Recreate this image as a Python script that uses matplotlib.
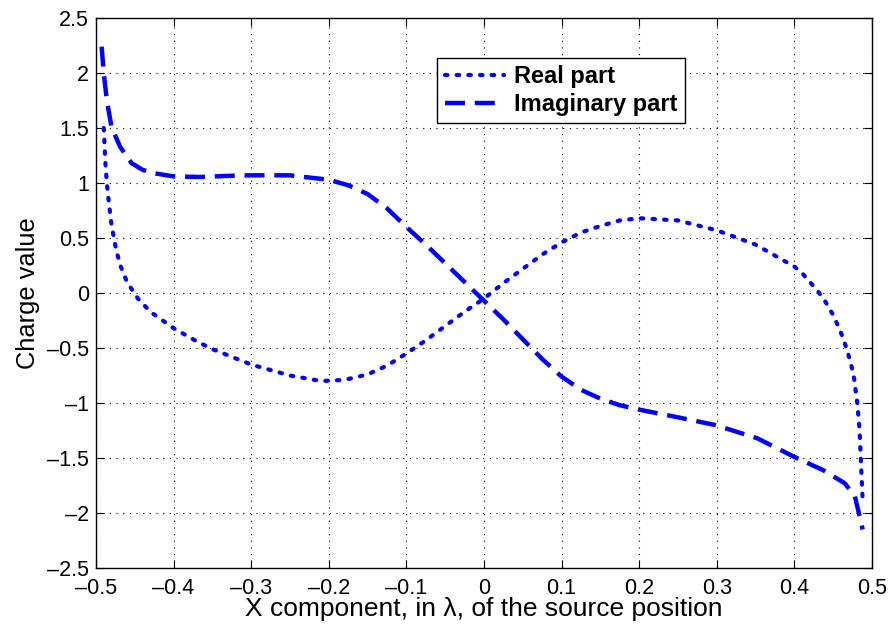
"""Charge value vs source position (real / imaginary parts)."""

import matplotlib.pyplot as plt

plt.rcParams["font.family"] = ["Liberation Sans", "DejaVu Sans"]

# Real part samples
real_x = [-0.490, -0.488, -0.486, -0.484, -0.480, -0.474, -0.468, -0.460,
          -0.446, -0.430, -0.420, -0.400, -0.370, -0.350, -0.300, -0.250,
          -0.210, -0.180, -0.150, -0.125, -0.100, -0.075, -0.050, -0.025,
          0.000, 0.025, 0.050, 0.075, 0.100, 0.125, 0.150, 0.175, 0.200,
          0.250, 0.300, 0.350, 0.400, 0.410, 0.420, 0.430, 0.440, 0.450,
          0.460, 0.468, 0.476, 0.481, 0.484, 0.486, 0.488]
real_y = [1.50, 1.20, 1.00, 0.86, 0.62, 0.39, 0.24, 0.10,
          -0.05, -0.17, -0.22, -0.32, -0.44, -0.51, -0.65, -0.75,
          -0.80, -0.79, -0.74, -0.66, -0.55, -0.43, -0.30, -0.17,
          -0.05, 0.09, 0.22, 0.35, 0.46, 0.55, 0.61, 0.66, 0.68,
          0.66, 0.57, 0.44, 0.24, 0.18, 0.10, 0.02, -0.08, -0.20,
          -0.36, -0.52, -0.73, -1.00, -1.25, -1.58, -1.90]

# Imaginary part samples
imag_x = [-0.4927, -0.490, -0.486, -0.480, -0.469, -0.454, -0.440, -0.426,
          -0.400, -0.366, -0.330, -0.300, -0.250, -0.200, -0.175, -0.150,
          -0.125, -0.100, -0.075, -0.050, -0.025, 0.000, 0.025, 0.050,
          0.075, 0.100, 0.125, 0.150, 0.175, 0.200, 0.250, 0.298,
          0.352, 0.400, 0.437, 0.465, 0.478, 0.488]
imag_y = [2.24, 2.00, 1.75, 1.51, 1.33, 1.18, 1.12, 1.09,
          1.06, 1.055, 1.065, 1.07, 1.07, 1.03, 0.98, 0.90,
          0.77, 0.60, 0.44, 0.27, 0.10, -0.07, -0.24, -0.42,
          -0.60, -0.76, -0.88, -0.96, -1.02, -1.06, -1.13, -1.20,
          -1.32, -1.49, -1.61, -1.73, -1.85, -2.15]

x_ticks = [-0.5, -0.4, -0.3, -0.2, -0.1, 0, 0.1, 0.2, 0.3, 0.4, 0.5]
y_ticks = [-2.5, -2, -1.5, -1, -0.5, 0, 0.5, 1, 1.5, 2, 2.5]


def fmt(v):
    # MATLAB-style labels with a long minus sign
    return f"{v:g}".replace("-", "\u2013")


fig = plt.figure(figsize=(8.92, 6.28), dpi=100)
fig.subplots_adjust(left=0.1076, right=0.9776, bottom=0.0955, top=0.9713)
ax = fig.add_subplot(111)

ax.plot(real_x, real_y, color="#0000ff", linestyle=(0, (0.6, 2.2)),
        linewidth=3, dash_capstyle="round", label="Real part")
ax.plot(imag_x, imag_y, color="#0000ff", linestyle=(0, (4.5, 2.2)),
        linewidth=3.2, label="Imaginary part")

ax.set_xlim(-0.5, 0.5)
ax.set_ylim(-2.5, 2.5)
ax.set_xticks(x_ticks)
ax.set_yticks(y_ticks)
ax.set_xticklabels([fmt(v) for v in x_ticks])
ax.set_yticklabels([fmt(v) for v in y_ticks])
ax.tick_params(direction="in", top=True, right=True, length=6,
               labelsize=15.5)
ax.tick_params(axis="x", pad=7)
ax.tick_params(axis="y", pad=5)
ax.grid(True, color="black", linestyle=(0, (1, 5)), linewidth=0.8)
for spine in ax.spines.values():
    spine.set_linewidth(1.0)

ax.set_xlabel("X component, in λ, of the source position", fontsize=19,
              labelpad=-1)
ax.set_ylabel("Charge value", fontsize=18.3, labelpad=5)

leg = ax.legend(loc="upper left", bbox_to_anchor=(0.440, 0.927),
                borderaxespad=0, fancybox=False, framealpha=1,
                edgecolor="black", prop={"weight": "bold", "size": 17},
                handlelength=2.5, handletextpad=0.45, borderpad=0.3,
                labelspacing=0.2)
leg.get_frame().set_linewidth(1.0)

fig.savefig("out.png", dpi=100)
plt.close(fig)
